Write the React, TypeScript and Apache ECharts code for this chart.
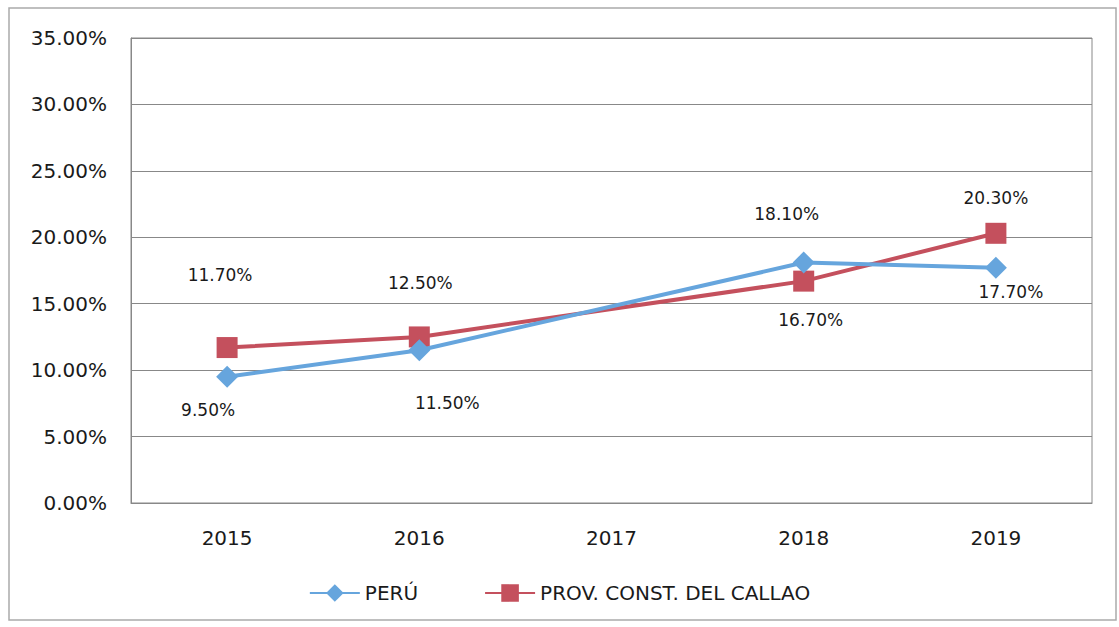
import React, { useEffect, useRef } from "react";
import * as echarts from "echarts";

const categories = ["2015", "2016", "2017", "2018", "2019"];
const peruValues: (number | null)[] = [9.5, 11.5, null, 18.1, 17.7];
const callaoValues: (number | null)[] = [11.7, 12.5, null, 16.7, 20.3];
const seriesNames = ["PERÚ", "PROV. CONST. DEL CALLAO"];

// label offsets (styling, not data)
const peruLabelOffsets: [number, number][] = [[-19, 33], [28, 53], [0, 0], [-17, -49], [15, 24]];
const callaoLabelOffsets: [number, number][] = [[-7, -73], [1, -54], [0, 0], [7, 39], [0, -35]];

const FONT = "'DejaVu Sans', sans-serif";

function buildData(vals: (number | null)[], offs: [number, number][]) {
  return vals.map((v, i) =>
    v === null ? null : { value: v, label: { offset: offs[i] } }
  );
}

export default function App() {
  const ref = useRef<HTMLDivElement>(null);
  useEffect(() => {
    if (!ref.current) return;
    const chart = echarts.init(ref.current, null, { renderer: "svg" });
    const labelCommon = {
      show: true,
      position: "inside" as const,
      formatter: (p: any) => Number(p.value).toFixed(2) + "%",
      color: "#1a1a1a",
      fontSize: 17,
      fontFamily: FONT,
    };
    chart.setOption({
      animation: false,
      backgroundColor: "#fff",
      graphic: [
        {
          type: "rect",
          shape: { x: 9, y: 8, width: 1107, height: 612 },
          style: { fill: "none", stroke: "#aaa", lineWidth: 1.5 },
          silent: true,
        },
      ],
      grid: {
        left: 131,
        right: 27,
        top: 38,
        bottom: 124,
        show: true,
        borderColor: "#888",
        borderWidth: 1,
        containLabel: false,
      },
      legend: {
        bottom: 19,
        left: "center",
        itemWidth: 50,
        itemHeight: 22,
        itemGap: 66,
        textStyle: { color: "#1a1a1a", fontSize: 20, fontFamily: FONT },
        data: seriesNames,
      },
      xAxis: {
        type: "category",
        data: categories,
        boundaryGap: true,
        axisLine: { show: true, lineStyle: { color: "#888" } },
        axisTick: { show: false },
        axisLabel: { color: "#1a1a1a", fontSize: 20, fontFamily: FONT, margin: 25 },
      },
      yAxis: {
        type: "value",
        min: 0,
        max: 35,
        interval: 5,
        axisLine: { show: true, lineStyle: { color: "#888" } },
        axisTick: { show: false },
        splitLine: { show: true, lineStyle: { color: "#888", width: 1 } },
        axisLabel: {
          color: "#1a1a1a",
          fontSize: 20,
          fontFamily: FONT,
          margin: 24,
          formatter: (v: number) => v.toFixed(2) + "%",
        },
      },
      series: [
        {
          name: seriesNames[0],
          type: "line",
          data: buildData(peruValues, peruLabelOffsets),
          connectNulls: true,
          symbol: "diamond",
          symbolSize: 22,
          lineStyle: { color: "#66A5DD", width: 4 },
          itemStyle: { color: "#66A5DD" },
          label: labelCommon,
          z: 3,
        },
        {
          name: seriesNames[1],
          type: "line",
          data: buildData(callaoValues, callaoLabelOffsets),
          connectNulls: true,
          symbol: "rect",
          symbolSize: 21,
          lineStyle: { color: "#C4505D", width: 4 },
          itemStyle: { color: "#C4505D" },
          label: labelCommon,
          z: 2,
        },
      ],
    });
    return () => chart.dispose();
  }, []);
  return (
    <div
      ref={ref}
      style={{ position: "absolute", left: 0, top: 0, width: 1119, height: 627 }}
    />
  );
}
